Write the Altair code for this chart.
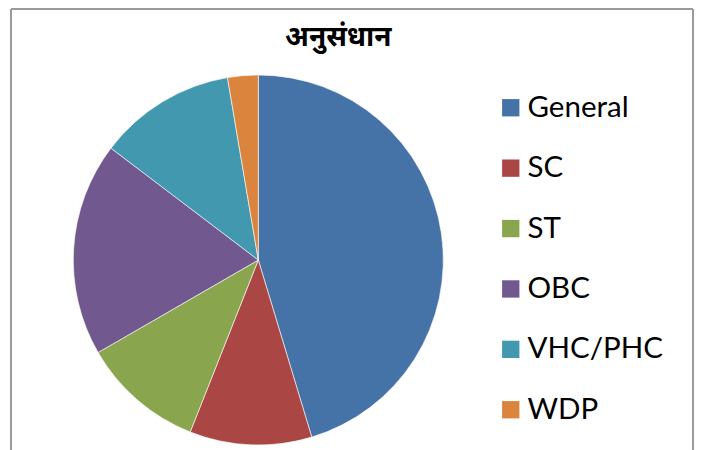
import altair as alt
import pandas as pd

title_text = "अनुसंधान"
categories = ["General", "SC", "ST", "OBC", "VHC/PHC", "WDP"]
values = [34, 8, 8, 14, 9, 2]
colors = ["#4572A7", "#AA4643", "#89A54E", "#71588F", "#4198AF", "#DB843D"]

df = pd.DataFrame({"category": categories, "value": values, "idx": list(range(len(categories)))})

W, H = 683, 442

pie = alt.Chart(df).mark_arc(outerRadius=185, stroke="#ffffff", strokeWidth=0.6).encode(
    theta=alt.Theta("value:Q", stack=True),
    order=alt.Order("idx:Q"),
    color=alt.Color(
        "category:N",
        sort=categories,
        scale=alt.Scale(domain=categories, range=colors),
        legend=alt.Legend(
            title=None,
            orient="none",
            legendX=485,
            legendY=85,
            symbolType="square",
            symbolSize=300,
            symbolStrokeWidth=0,
            labelFont="Lato",
            labelFontSize=29.5,
            labelColor="#000000",
            labelOffset=2,
            rowPadding=29.4,
            padding=0,
        ),
    ),
    x=alt.value(247.3),
    y=alt.value(252),
)

title = alt.Chart(alt.Data(values=[{"t": title_text}])).mark_text(
    font="Noto Sans Devanagari, Lohit Devanagari, Noto Sans, sans-serif",
    fontSize=28,
    fontWeight="bold",
    color="#000000",
    align="center",
    baseline="middle",
).encode(text="t:N", x=alt.value(327.3), y=alt.value(30))

border_style = dict(color="#9a9a9a", strokeWidth=2)
one = alt.Data(values=[{"k": 1}])
left_b = alt.Chart(one).mark_rule(**border_style).encode(x=alt.value(0), y=alt.value(1), y2=alt.value(H))
top_b = alt.Chart(one).mark_rule(**border_style).encode(x=alt.value(0), x2=alt.value(W - 1), y=alt.value(1))
right_b = alt.Chart(one).mark_rule(**border_style).encode(x=alt.value(W - 1), y=alt.value(1), y2=alt.value(H))

chart = alt.layer(left_b, top_b, right_b, pie, title).properties(
    width=W,
    height=H,
    autosize=alt.AutoSizeParams(type="none"),
    padding={"left": 3, "top": 0, "right": 0, "bottom": 0},
).configure_view(stroke=None)

chart.save("out.html", embed_options={"renderer": "svg", "actions": False})
